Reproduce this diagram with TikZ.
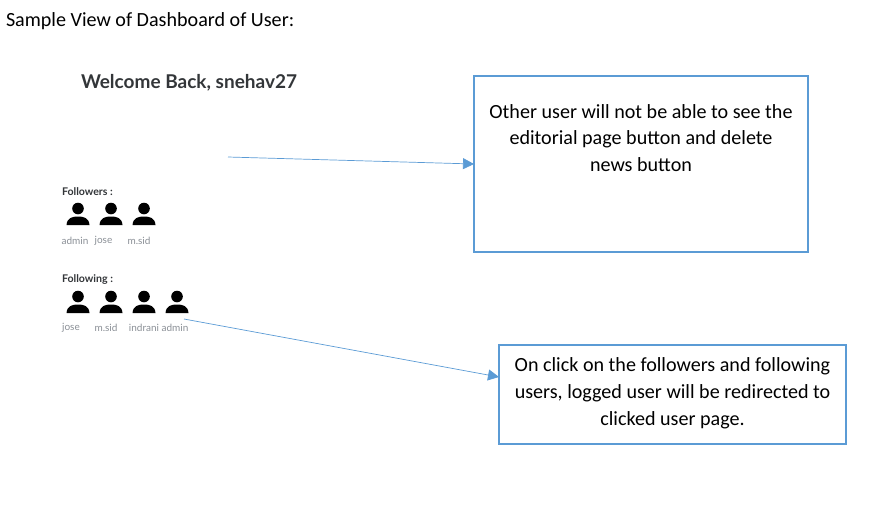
\documentclass[tikz,border=0pt]{standalone}
\usepackage{fontspec}
\setmainfont{Carlito}
\newfontfamily\latofont{Lato}
\usepackage{tikz}
\usetikzlibrary{arrows.meta,positioning}
\definecolor{boxblue}{HTML}{5B9BD5}
\definecolor{namegray}{HTML}{8A8F96}
\definecolor{headgray}{HTML}{333639}

\begin{document}
\begin{tikzpicture}[x=1pt,y=-1pt]
\tikzstyle{every node}=[inner sep=0pt,outer sep=0pt]
\tikzstyle{notebox}=[rectangle,draw=boxblue,line width=1.6pt,fill=white]
\tikzstyle{notetext}=[align=center,font=\fontsize{20.1}{26.8}\selectfont,text=black]
\tikzstyle{username}=[font=\latofont\fontsize{10}{12}\selectfont,text=namegray]
\tikzstyle{listhead}=[font=\latofont\bfseries\fontsize{10.6}{12}\selectfont,text=headgray,anchor=west]
\tikzstyle{pointer}=[draw=boxblue,line width=0.7pt,-{Triangle[length=11pt,width=11pt]}]
\tikzset{person/.pic={
	\fill[black] (0,-5.5) circle (5.8);
	\fill[black] (-11.5,11) .. controls (-11,3.5) and (-5,2.5) .. (0,2.5) .. controls (5,2.5) and (11,3.5) .. (11.5,11) -- cycle;
}}
\useasboundingbox (0,0) rectangle (888,504);

\node[font=\fontsize{20.1}{24}\selectfont,anchor=west] (title) at (6,21) {Sample View of Dashboard of User:};
\node[font=\latofont\bfseries\fontsize{19}{24}\selectfont,text=headgray,anchor=west] (welcome) at (81,82.5) {Welcome Back, snehav27};

\node[listhead] (followers) at (62,192) {Followers :};
\foreach \x in {78,111,144} \pic at (\x,214) {person};
\node[username] (fadmin) at (75,241) {admin};
\node[username] (fjose) at (103.5,241) {jose};
\node[username] (fmsid) at (139,241) {m.sid};

\node[listhead] (following) at (62,279.5) {Following :};
\foreach \x in {78,111,144,177} \pic at (\x,302) {person};
\node[username] (gjose) at (71,327.5) {jose};
\node[username] (gmsid) at (106,327.5) {m.sid};
\node[username] (gindrani) at (144,327.5) {indrani};
\node[username] (gadmin) at (175,327.5) {admin};

\node[notebox,minimum width=334pt,minimum height=176pt] (editbox) at (641,164) {};
\node[notetext] (edittext) at (641,138) {Other user will not be able to see the\\editorial page button and delete\\news button};
\node[notebox,minimum width=347pt,minimum height=99pt] (clickbox) at (672.5,394.5) {};
\node[notetext] (clicktext) at (672.5,393.5) {On click on the followers and following\\users, logged user will be redirected to\\clicked user page.};

\coordinate (editfrom) at (228,157);
\coordinate (clickfrom) at (184,319);
\draw[pointer] (editfrom) -- (editbox.west);
\draw[pointer] (clickfrom) -- (clickbox.west |- 0,377);
\end{tikzpicture}
\end{document}
